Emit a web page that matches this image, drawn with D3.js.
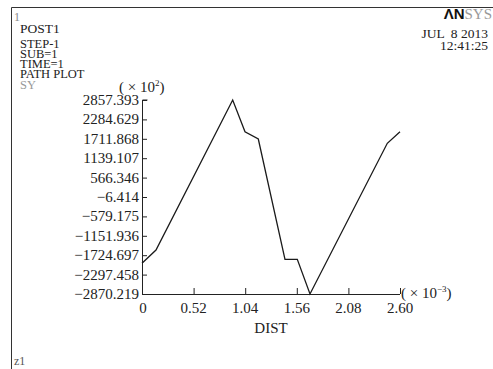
<!DOCTYPE html>
<html>
<head>
<meta charset="utf-8">
<script src="https://cdn.jsdelivr.net/npm/d3@7"></script>
<style>
  body { margin: 0; background: #fff; }
  text { font-family: "Liberation Serif", "DejaVu Serif", serif; fill: #222; }
</style>
</head>
<body>
<script>
// path data, DIST (x 10^-3) and SY (x 10^2)
var dist = [0, 0.141, 0.914, 1.038, 1.172, 1.441, 1.565, 1.693, 2.472, 2.6];
var sy = [-1963, -1571, 2857.393, 1921, 1706, -1845, -1845, -2870.219, 1579, 1921];

var yTicks = [2857.393, 2284.629, 1711.868, 1139.107, 566.346, -6.414, -579.175,
              -1151.936, -1724.697, -2297.458, -2870.219];
var xTicks = [0, 0.52, 1.04, 1.56, 2.08, 2.60];
var xTickLabels = ["0", "0.52", "1.04", "1.56", "2.08", "2.60"];
var infoLines = ["STEP-1", "SUB=1", "TIME=1", "PATH PLOT"];

var w = 493, h = 369;
var plotLeft = 142, plotRight = 400, plotTop = 100, plotBottom = 294;

var svg = d3.select("body").append("svg")
  .attr("width", w)
  .attr("height", h);

// frame lines
svg.append("line").attr("x1", 11.5).attr("x2", w).attr("y1", 7.5).attr("y2", 7.5)
  .attr("stroke", "#333").attr("stroke-width", 1);
svg.append("line").attr("x1", 11.5).attr("x2", 11.5).attr("y1", 7.5).attr("y2", h)
  .attr("stroke", "#333").attr("stroke-width", 1);

// header texts
svg.append("text").attr("x", 14).attr("y", 21).style("font-size", "12px")
  .style("fill", "#888").text("1");
svg.append("text").attr("x", 20).attr("y", 33).style("font-size", "13.5px").text("POST1");
infoLines.forEach(function(t, i) {
  svg.append("text").attr("x", 20).attr("y", 47.5 + i * 10.3)
    .style("font-size", "12.5px").text(t);
});
svg.append("text").attr("x", 20).attr("y", 89).style("font-size", "12.5px")
  .style("fill", "#999").text("SY");

var ansys = svg.append("text").attr("x", 492).attr("y", 19)
  .attr("text-anchor", "end").style("font-size", "15px");
ansys.append("tspan").style("font-weight", "bold").style("font-family", "Liberation Sans, sans-serif")
  .style("fill", "#111").text("ΛN");
ansys.append("tspan").style("fill", "#999").text("SYS");
svg.append("text").attr("x", 488).attr("y", 38).attr("text-anchor", "end")
  .style("font-size", "13.5px").style("white-space", "pre").text("JUL  8 2013");
svg.append("text").attr("x", 488).attr("y", 50).attr("text-anchor", "end")
  .style("font-size", "13.5px").text("12:41:25");

// scales
var x = d3.scaleLinear().domain([0, 2.6]).range([plotLeft, plotRight]);
var y = d3.scaleLinear().domain([-2870.219, 2857.393]).range([plotBottom, plotTop]);

// y axis
var yAxis = svg.append("g")
  .attr("transform", "translate(" + plotLeft + ",0)")
  .call(d3.axisRight(y).tickValues(yTicks).tickSize(5).tickFormat(""));
yAxis.select(".domain").attr("d", "M5.5," + plotTop + "H0.5V" + plotBottom);
yAxis.selectAll(".tick line").attr("stroke", "#222");
yAxis.select(".domain").attr("stroke", "#222");

yTicks.forEach(function(v) {
  svg.append("text").attr("x", plotLeft - 3).attr("y", y(v) + 5)
    .attr("text-anchor", "end").style("font-size", "15px")
    .text(d3.format(".3f")(v).replace("-", "\u2212"));
});

// x axis
var xAxis = svg.append("g")
  .attr("transform", "translate(0," + plotBottom + ")")
  .call(d3.axisTop(x).tickValues(xTicks).tickSize(6).tickFormat(""));
xAxis.select(".domain").attr("d", "M" + plotLeft + ",0.5H" + plotRight);
xAxis.selectAll(".tick line").attr("stroke", "#222");
xAxis.select(".domain").attr("stroke", "#222");

xTicks.forEach(function(v, i) {
  svg.append("text").attr("x", x(v) + (i == 0 ? 1 : 0)).attr("y", 313)
    .attr("text-anchor", "middle").style("font-size", "15px").text(xTickLabels[i]);
});

// axis labels and multipliers
svg.append("text").attr("x", 271).attr("y", 333).attr("text-anchor", "middle")
  .style("font-size", "15px").text("DIST");

var xm = svg.append("text").attr("x", 401).attr("y", 298).style("font-size", "15px");
xm.append("tspan").text("( \u00d7 10");
xm.append("tspan").attr("dy", -6).style("font-size", "9px").text("\u22123");
xm.append("tspan").attr("dy", 6).text(")");

var ym = svg.append("text").attr("x", 119).attr("y", 92).style("font-size", "15px");
ym.append("tspan").text("( \u00d7 10");
ym.append("tspan").attr("dy", -6).style("font-size", "9px").text("2");
ym.append("tspan").attr("dy", 6).text(")");

svg.append("text").attr("x", 14).attr("y", 365).style("font-size", "12px")
  .style("fill", "#555").text("z1");

// path line
var line = d3.line()
  .x(function(d, i) { return x(dist[i]); })
  .y(function(d, i) { return y(sy[i]); });

svg.append("path")
  .datum(sy)
  .attr("d", line)
  .attr("fill", "none")
  .attr("stroke", "#1a1a1a")
  .attr("stroke-width", 1.3);
</script>
</body>
</html>
